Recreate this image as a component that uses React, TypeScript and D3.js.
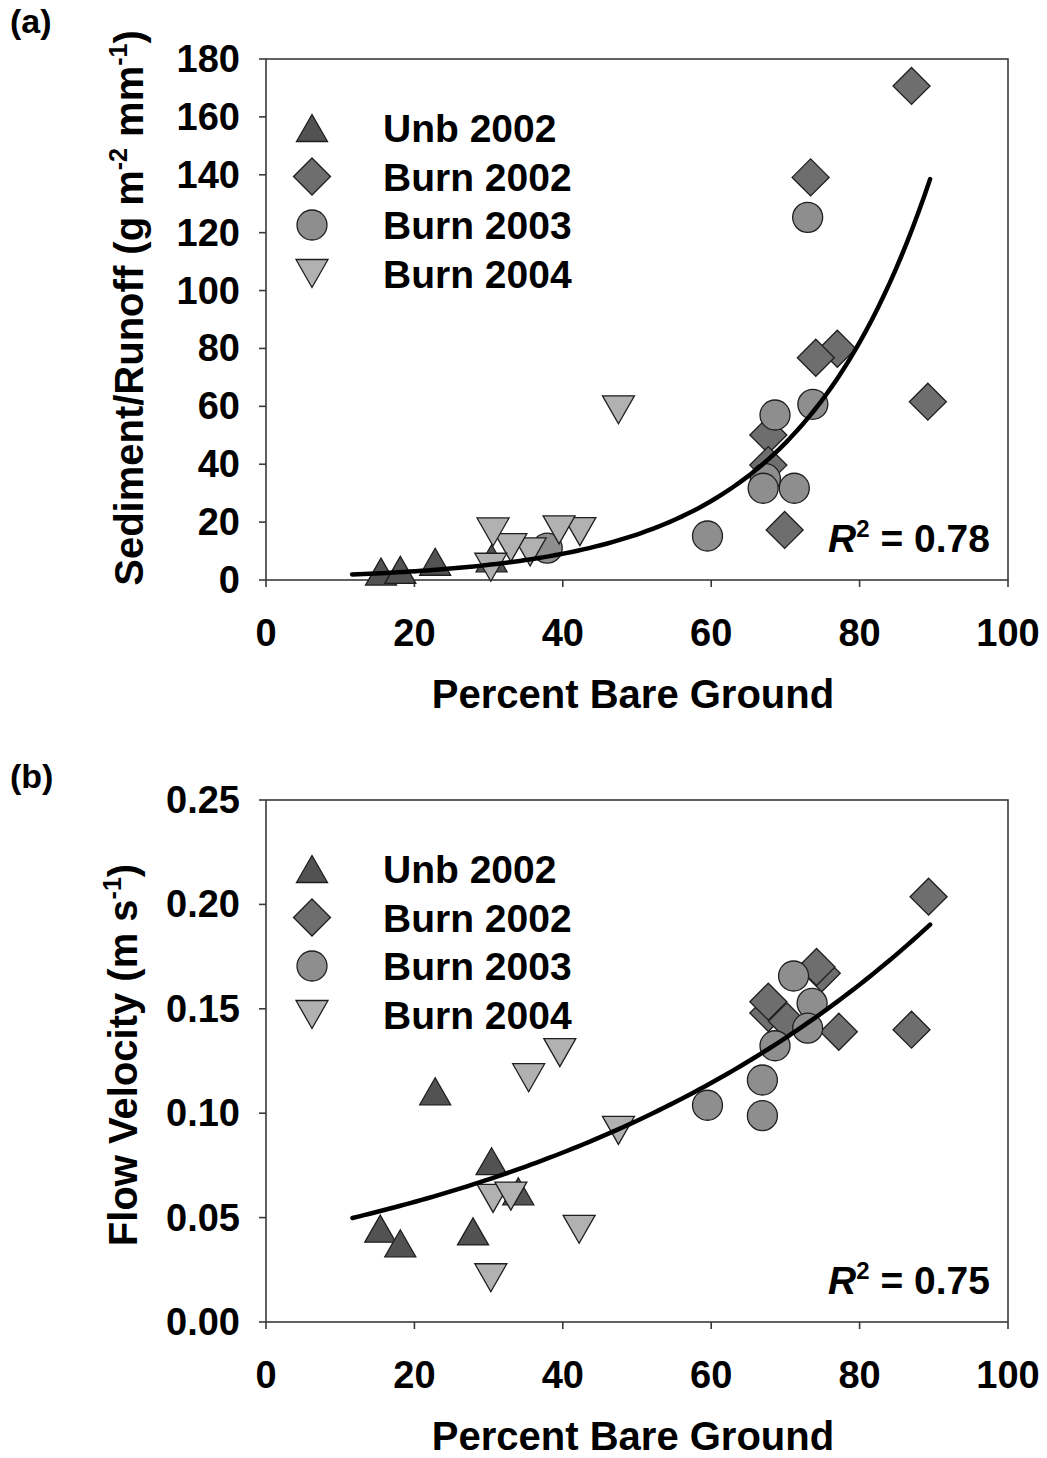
import React from 'react';
import * as d3 from 'd3';

// ---------- data ----------
const X_TICKS = [0, 20, 40, 60, 80, 100];
const A_Y_TICKS = [0, 20, 40, 60, 80, 100, 120, 140, 160, 180];
const B_Y_TICKS = [0, 0.05, 0.1, 0.15, 0.2, 0.25];
const SERIES_NAMES = ['Unb 2002', 'Burn 2002', 'Burn 2003', 'Burn 2004'];

// Panel (a): Sediment/Runoff
const A_UNB_X = [15.5, 18.1, 22.8, 30.4];
const A_UNB_Y = [2.9, 3.5, 6.3, 7.5];
const A_B02_X = [87.0, 73.4, 77.0, 74.1, 89.2, 67.7, 67.7, 69.9];
const A_B02_Y = [170.7, 139.1, 79.9, 76.8, 61.6, 50.1, 39.7, 17.3];
const A_B03_X = [73.0, 68.6, 73.7, 67.3, 67.0, 71.2, 59.5, 37.9];
const A_B03_Y = [125.3, 57.0, 60.7, 35.0, 31.7, 31.7, 15.2, 11.0];
const A_B04_X = [47.5, 42.3, 39.5, 35.6, 33.0, 30.6, 30.3];
const A_B04_Y = [58.8, 16.7, 17.3, 9.7, 11.2, 16.6, 4.4];
const A_FIT = { a: 1.003, b: 0.05506, from: 11.6, to: 89.5 };
const A_R2 = '0.78';

// Panel (b): Flow velocity
const B_UNB_X = [15.4, 18.1, 22.8, 27.9, 34.0, 30.4];
const B_UNB_Y = [0.0447, 0.0377, 0.1105, 0.0434, 0.0626, 0.077];
const B_B02_X = [89.3, 74.9, 74.2, 67.7, 67.7, 70.2, 77.2, 87.0];
const B_B02_Y = [0.2037, 0.167, 0.17, 0.148, 0.1534, 0.144, 0.139, 0.14];
const B_B03_X = [71.1, 73.6, 73.0, 68.6, 66.9, 66.9, 59.5];
const B_B03_Y = [0.1657, 0.1526, 0.1407, 0.1323, 0.1159, 0.0988, 0.1038];
const B_B04_X = [35.4, 39.6, 47.5, 30.6, 33.0, 42.2, 30.3];
const B_B04_Y = [0.117, 0.129, 0.0918, 0.0592, 0.0603, 0.0444, 0.0212];
const B_FIT = { a: 0.04075, b: 0.01722, from: 11.65, to: 89.5 };
const B_R2 = '0.75';

// ---------- styles ----------
const FONT = '"Liberation Sans", Arial, Helvetica, sans-serif';
const SHAPES = ['tri', 'diamond', 'circle', 'invtri'];
const FILLS = ['#525252', '#6e6e6e', '#8e8e8e', '#b1b1b1'];
const MARK_STROKE = '#1e1e1e';

function markerPath(shape: string, cx: number, cy: number): string {
  if (shape === 'tri') {
    const w = 31, h = 27;
    return `M${cx},${cy - h / 2}L${cx + w / 2},${cy + h / 2}L${cx - w / 2},${cy + h / 2}Z`;
  }
  if (shape === 'invtri') {
    const w = 32, h = 28;
    return `M${cx - w / 2},${cy - h / 2}L${cx + w / 2},${cy - h / 2}L${cx},${cy + h / 2}Z`;
  }
  if (shape === 'diamond') {
    const r = 18.5;
    return `M${cx},${cy - r}L${cx + r},${cy}L${cx},${cy + r}L${cx - r},${cy}Z`;
  }
  const r = 15;
  return `M${cx - r},${cy}A${r},${r} 0 1,0 ${cx + r},${cy}A${r},${r} 0 1,0 ${cx - r},${cy}Z`;
}

function Marker({ shape, cx, cy, fill }: { shape: string; cx: number; cy: number; fill: string }) {
  return <path d={markerPath(shape, cx, cy)} fill={fill} stroke={MARK_STROKE} strokeWidth={1.3} />;
}

type PanelProps = {
  top: number;
  bottom: number;
  yDomain: [number, number];
  yTicks: number[];
  yFmt: (v: number) => string;
  series: { xs: number[]; ys: number[] }[];
  fit: { a: number; b: number; from: number; to: number };
  r2: string;
  label: string;
  labelY: number;
  yTitle: React.ReactNode;
  yTitleX: number;
  yTitleY: number;
  legendTop: number;
};

const LEFT = 266;
const RIGHT = 1008;

function Panel(p: PanelProps) {
  const x = d3.scaleLinear().domain([0, 100]).range([LEFT, RIGHT]);
  const y = d3.scaleLinear().domain(p.yDomain).range([p.bottom, p.top]);
  const fitXs = d3.range(0, 101).map((i) => p.fit.from + ((p.fit.to - p.fit.from) * i) / 100);
  const line = d3
    .line<number>()
    .x((v) => x(v))
    .y((v) => y(p.fit.a * Math.exp(p.fit.b * v)))
    .curve(d3.curveLinear);
  const axisColor = '#3a3a3a';
  const tickLen = 7;
  return (
    <g>
      {/* frame */}
      <rect x={LEFT} y={p.top} width={RIGHT - LEFT} height={p.bottom - p.top} fill="none" stroke={axisColor} strokeWidth={1.6} />
      {/* y ticks */}
      {p.yTicks.map((t) => (
        <g key={'y' + t}>
          <line x1={LEFT - tickLen} x2={LEFT} y1={y(t)} y2={y(t)} stroke={axisColor} strokeWidth={1.6} />
          <text x={240} y={y(t) + 13} textAnchor="end" fontFamily={FONT} fontWeight="bold" fontSize={38} fill="#000">
            {p.yFmt(t)}
          </text>
        </g>
      ))}
      {/* x ticks */}
      {X_TICKS.map((t) => (
        <g key={'x' + t}>
          <line x1={x(t)} x2={x(t)} y1={p.bottom} y2={p.bottom + tickLen} stroke={axisColor} strokeWidth={1.6} />
          <text x={x(t)} y={p.bottom + 66} textAnchor="middle" fontFamily={FONT} fontWeight="bold" fontSize={38} fill="#000">
            {t}
          </text>
        </g>
      ))}
      <text x={(LEFT + RIGHT) / 2 - 4} y={p.bottom + 128} textAnchor="middle" fontFamily={FONT} fontWeight="bold" fontSize={40} fill="#000">
        Percent Bare Ground
      </text>
      {/* y title */}
      <text
        transform={`translate(${p.yTitleX},${p.yTitleY}) rotate(-90)`}
        textAnchor="middle"
        fontFamily={FONT}
        fontWeight="bold"
        fontSize={40}
        fill="#000"
      >
        {p.yTitle}
      </text>
      {/* panel label */}
      <text x={10} y={p.labelY} fontFamily={FONT} fontWeight="bold" fontSize={34} fill="#000">
        {p.label}
      </text>
      {/* data */}
      {p.series.map((s, si) =>
        s.xs.map((xv, i) => (
          <Marker key={`m${si}-${i}`} shape={SHAPES[si]} cx={x(xv)} cy={y(s.ys[i])} fill={FILLS[si]} />
        ))
      )}
      {/* fit */}
      <path d={line(fitXs) || ''} fill="none" stroke="#000" strokeWidth={4.5} strokeLinecap="round" />
      {/* legend */}
      {SERIES_NAMES.map((n, i) => {
        const cy = p.legendTop + i * 48.5;
        return (
          <g key={'l' + i}>
            <Marker shape={SHAPES[i]} cx={312} cy={cy} fill={FILLS[i]} />
            <text x={383} y={cy + 14} fontFamily={FONT} fontWeight="bold" fontSize={39} fill="#000">
              {n}
            </text>
          </g>
        );
      })}
      {/* R2 */}
      <text x={990} y={p.bottom - 28} textAnchor="end" fontFamily={FONT} fontWeight="bold" fontSize={39} fill="#000">
        <tspan fontStyle="italic">R</tspan>
        <tspan fontSize={24} dy={-15}>2</tspan>
        <tspan dy={15}>{' = ' + p.r2}</tspan>
      </text>
    </g>
  );
}

export default function App() {
  const fmtA = (v: number) => String(v);
  const fmtB = (v: number) => d3.format('.2f')(v);
  return (
    <svg width={1047} height={1458} style={{ position: 'absolute', left: 0, top: 0, background: '#fff' }}>
      <rect x={0} y={0} width={1047} height={1458} fill="#fff" />
      <Panel
        top={59}
        bottom={580}
        yDomain={[0, 180]}
        yTicks={A_Y_TICKS}
        yFmt={fmtA}
        series={[
          { xs: A_UNB_X, ys: A_UNB_Y },
          { xs: A_B02_X, ys: A_B02_Y },
          { xs: A_B03_X, ys: A_B03_Y },
          { xs: A_B04_X, ys: A_B04_Y },
        ]}
        fit={A_FIT}
        r2={A_R2}
        label="(a)"
        labelY={33}
        yTitle={
          <>
            <tspan>Sediment/Runoff (g m</tspan>
            <tspan fontSize={25} dy={-16}>-2</tspan>
            <tspan dy={16}> mm</tspan>
            <tspan fontSize={25} dy={-16}>-1</tspan>
            <tspan dy={16}>)</tspan>
          </>
        }
        yTitleX={143}
        yTitleY={308}
        legendTop={128}
      />
      <Panel
        top={800}
        bottom={1322}
        yDomain={[0, 0.25]}
        yTicks={B_Y_TICKS}
        yFmt={fmtB}
        series={[
          { xs: B_UNB_X, ys: B_UNB_Y },
          { xs: B_B02_X, ys: B_B02_Y },
          { xs: B_B03_X, ys: B_B03_Y },
          { xs: B_B04_X, ys: B_B04_Y },
        ]}
        fit={B_FIT}
        r2={B_R2}
        label="(b)"
        labelY={788}
        yTitle={
          <>
            <tspan>Flow Velocity (m s</tspan>
            <tspan fontSize={25} dy={-16}>-1</tspan>
            <tspan dy={16}>)</tspan>
          </>
        }
        yTitleX={137}
        yTitleY={1055}
        legendTop={869}
      />
    </svg>
  );
}
